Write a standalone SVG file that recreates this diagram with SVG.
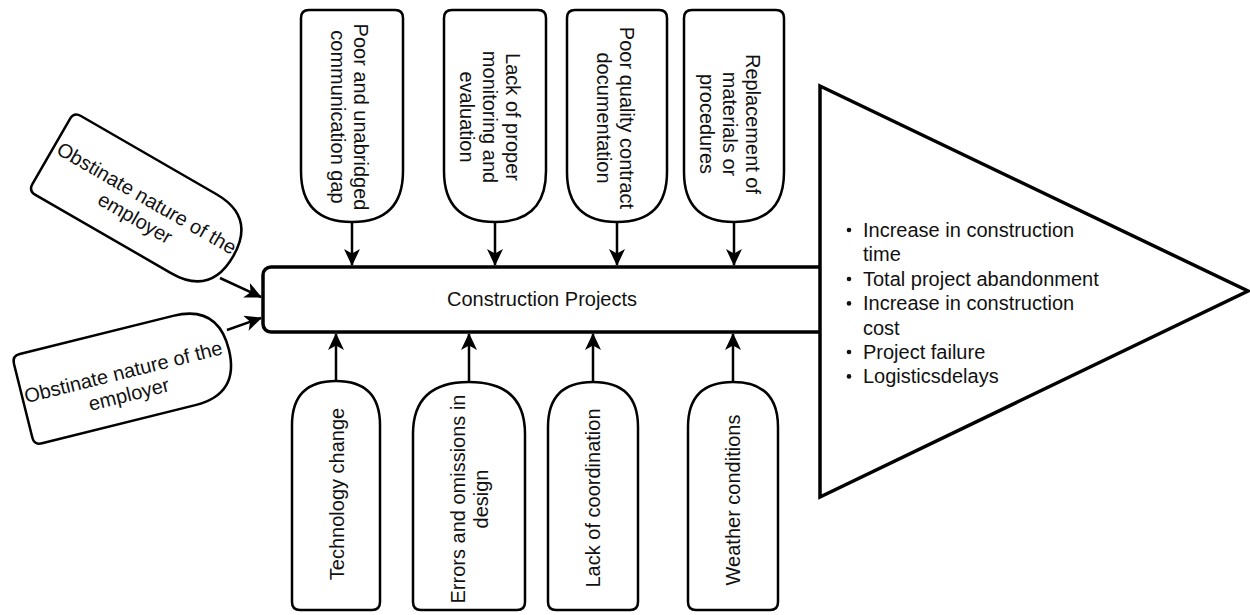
<svg xmlns="http://www.w3.org/2000/svg" width="1250" height="615" viewBox="0 0 1250 615">
<defs>
<style>
.node{fill:#fff;stroke:#000;stroke-width:2.5;}
.main{fill:#fff;stroke:#000;stroke-width:3.5;}
.edge{fill:none;stroke:#000;stroke-width:2.5;marker-end:url(#arr);}
text{font-family:"Liberation Sans",Arial,sans-serif;font-size:20px;fill:#111;}
.c{text-anchor:middle;}
</style>
<marker id="arr" markerUnits="userSpaceOnUse" markerWidth="17" markerHeight="16" refX="16" refY="8" orient="auto">
<path d="M0,0 L17,8 L0,16 L4.5,8 Z" fill="#000"/>
</marker>
</defs>
<rect width="1250" height="615" fill="#fff"/>

<g id="main-box">
<rect class="main" x="263" y="267" width="570" height="65" rx="8" ry="8"/>
<text class="c" x="542" y="306">Construction Projects</text>
</g>

<g id="effects">
<polygon class="main" points="820,86 1248,291 820,497" stroke-linejoin="miter"/>
<g fill="#111">
<circle cx="849" cy="230" r="2.3"/>
<circle cx="849" cy="279" r="2.3"/>
<circle cx="849" cy="303.4" r="2.3"/>
<circle cx="849" cy="352" r="2.3"/>
<circle cx="849" cy="376.4" r="2.3"/>
</g>
<text x="863" y="237">Increase in construction</text>
<text x="863" y="261.4">time</text>
<text x="863" y="285.8">Total project abandonment</text>
<text x="863" y="310.2">Increase in construction</text>
<text x="863" y="334.6">cost</text>
<text x="863" y="359">Project failure</text>
<text x="863" y="383.4">Logisticsdelays</text>
</g>

<g id="cause-left-1">
<path class="node" transform="translate(74,112) rotate(30)" d="M8,0 L164.5,0 Q210,0 210,45.5 Q210,91 164.5,91 L8,91 Q0,91 0,83 L0,8 Q0,0 8,0 Z"/>
<text class="c" transform="translate(141,208) rotate(30)"><tspan x="0" y="-4.5">Obstinate nature of the</tspan><tspan x="0" y="18.5">employer</tspan></text>
</g>

<g id="cause-left-2">
<path class="node" transform="translate(12,356) rotate(-14)" d="M8,0 L166,0 Q212,0 212,46 Q212,92 166,92 L8,92 Q0,92 0,84 L0,8 Q0,0 8,0 Z"/>
<text class="c" transform="translate(126,383) rotate(-14)"><tspan x="0" y="-4.5">Obstinate nature of the</tspan><tspan x="0" y="18.5">employer</tspan></text>
</g>

<g id="cause-top-1">
<path class="node" d="M309,10 L395,10 Q403,10 403,18 L403,171 Q403,222 352,222 Q301,222 301,171 L301,18 Q301,10 309,10 Z"/>
<text class="c" transform="translate(349,117) rotate(90)"><tspan x="0" y="-4.5">Poor and unabridged</tspan><tspan x="0" y="18.5">communication gap</tspan></text>
</g>

<g id="cause-top-2">
<path class="node" d="M452,10 L538,10 Q546,10 546,18 L546,171 Q546,222 495,222 Q444,222 444,171 L444,18 Q444,10 452,10 Z"/>
<text class="c" transform="translate(490,117) rotate(90)"><tspan x="0" y="-16">Lack of proper</tspan><tspan x="0" y="7">monitoring and</tspan><tspan x="0" y="30">evaluation</tspan></text>
</g>

<g id="cause-top-3">
<path class="node" d="M575,10 L659,10 Q667,10 667,18 L667,172 Q667,222 617,222 Q567,222 567,172 L567,18 Q567,10 575,10 Z"/>
<text class="c" transform="translate(615,118) rotate(90)"><tspan x="0" y="-4.5">Poor quality contract</tspan><tspan x="0" y="18.5">documentation</tspan></text>
</g>

<g id="cause-top-4">
<path class="node" d="M692,10 L776,10 Q784,10 784,18 L784,172 Q784,222 734,222 Q684,222 684,172 L684,18 Q684,10 692,10 Z"/>
<text class="c" transform="translate(730,124) rotate(90)"><tspan x="0" y="-16">Replacement of</tspan><tspan x="0" y="7">materials or</tspan><tspan x="0" y="30">procedures</tspan></text>
</g>

<g id="cause-bottom-1">
<path class="node" d="M336,381 Q380,381 380,425 L380,602 Q380,610 372,610 L300,610 Q292,610 292,602 L292,425 Q292,381 336,381 Z"/>
<text class="c" transform="translate(337,494) rotate(-90)"><tspan x="0" y="7">Technology change</tspan></text>
</g>

<g id="cause-bottom-2">
<path class="node" d="M469,382 Q525,382 525,434 L525,602 Q525,610 517,610 L421,610 Q413,610 413,602 L413,434 Q413,382 469,382 Z"/>
<text class="c" transform="translate(469.5,499) rotate(-90)"><tspan x="0" y="-4.5">Errors and omissions in</tspan><tspan x="0" y="18.5">design</tspan></text>
</g>

<g id="cause-bottom-3">
<path class="node" d="M593,382 Q638,382 638,427 L638,602 Q638,610 630,610 L556,610 Q548,610 548,602 L548,427 Q548,382 593,382 Z"/>
<text class="c" transform="translate(593,498) rotate(-90)"><tspan x="0" y="7">Lack of coordination</tspan></text>
</g>

<g id="cause-bottom-4">
<path class="node" d="M733,382 Q778,382 778,427 L778,602 Q778,610 770,610 L696,610 Q688,610 688,602 L688,427 Q688,382 733,382 Z"/>
<text class="c" transform="translate(733,500) rotate(-90)"><tspan x="0" y="7">Weather conditions</tspan></text>
</g>

<g id="connectors">
<line class="edge" x1="352" y1="222" x2="352" y2="265"/>
<line class="edge" x1="495" y1="222" x2="495" y2="265"/>
<line class="edge" x1="617" y1="222" x2="617" y2="265"/>
<line class="edge" x1="734" y1="222" x2="734" y2="265"/>
<line class="edge" x1="336" y1="381" x2="336" y2="334"/>
<line class="edge" x1="469" y1="382" x2="469" y2="334"/>
<line class="edge" x1="593" y1="382" x2="593" y2="334"/>
<line class="edge" x1="733" y1="382" x2="733" y2="334"/>
<line class="edge" x1="220" y1="278" x2="261" y2="297"/>
<line class="edge" x1="227" y1="330" x2="261" y2="318"/>
</g>
</svg>
